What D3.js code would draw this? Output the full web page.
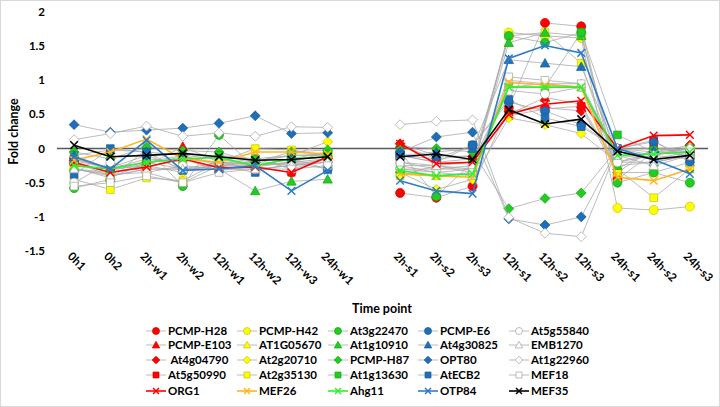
<!DOCTYPE html>
<html><head><meta charset="utf-8">
<script src="https://cdn.jsdelivr.net/npm/d3@7"></script>
<style>
body{margin:0;background:#fff;}
svg{font-family:Lato,"Open Sans",sans-serif;font-weight:bold;}
</style></head>
<body><div id="chart"></div>
<script>
const categories = ["0h1","0h2","2h-w1","2h-w2","12h-w1","12h-w2","12h-w3","24h-w1"," ","2h-s1","2h-s2","2h-s3","12h-s1","12h-s2","12h-s3","24h-s1","24h-s2","24h-s3"];
const yTicks = [-1.5,-1,-0.5,0,0.5,1,1.5,2];

const seriesNames = ["PCMP-H28","PCMP-E103"," At4g04790","At5g50990",
  "PCMP-H42","AT1G05670","At2g20710","At2g35130",
  "At3g22470","At1g10910","PCMP-H87","At1g13630",
  "PCMP-E6","At4g30825","OPT80","AtECB2",
  "At5g55840","EMB1270","At1g22960","MEF18",
  "ORG1","MEF26","Ahg11","OTP84","MEF35"];

const vPCMPH28  = [-0.22,-0.35,-0.27,-0.15,-0.32,-0.27,-0.35,-0.12,null,-0.65,-0.72,-0.55,0.6,1.84,1.79,-0.45,-0.05,-0.1];
const vPCMPE103 = [-0.25,-0.3,-0.25,0.03,-0.2,-0.25,-0.2,-0.15,null,0.05,-0.15,-0.1,0.5,0.75,0.65,-0.3,0.0,0.0];
const vAt4g04790= [-0.18,-0.28,-0.2,-0.1,-0.25,-0.2,-0.25,-0.15,null,0.07,-0.1,-0.12,0.55,0.6,0.55,-0.2,-0.05,0.05];
const vAt5g50990= [-0.15,-0.32,-0.22,-0.12,-0.22,-0.15,-0.3,-0.15,null,-0.1,-0.2,-0.15,0.48,0.58,0.62,-0.35,0.0,-0.05];
const vPCMPH42  = [-0.3,-0.38,-0.35,-0.5,-0.25,-0.18,-0.1,-0.1,null,-0.3,-0.3,-0.3,1.7,1.65,1.62,-0.87,-0.9,-0.85];
const vAT1G05670= [-0.2,-0.4,-0.3,-0.3,-0.25,-0.25,-0.15,-0.05,null,-0.35,-0.4,-0.35,0.9,0.95,0.95,-0.35,-0.35,-0.2];
const vAt2g20710= [-0.3,-0.35,-0.25,-0.35,-0.2,-0.2,-0.1,0.1,null,-0.35,-0.6,-0.45,0.45,0.35,0.22,-0.2,-0.1,0.02];
const vAt2g35130= [-0.45,-0.6,-0.43,-0.47,-0.2,0.0,-0.02,-0.1,null,-0.4,-0.25,-0.3,1.65,1.7,1.25,-0.3,-0.72,-0.3];
const vAt3g22470= [-0.58,-0.45,0.0,-0.55,0.2,-0.27,-0.2,-0.05,null,-0.05,-0.7,-0.2,1.65,1.55,1.7,-0.5,-0.35,-0.5];
const vAt1g10910= [-0.28,-0.43,-0.2,-0.3,-0.3,-0.62,-0.48,-0.45,null,-0.3,-0.35,-0.3,1.55,1.7,1.65,-0.25,-0.2,-0.1];
const vPCMPH87  = [-0.05,-0.15,0.02,-0.03,-0.05,-0.2,-0.05,-0.02,null,0.02,0.0,-0.05,-0.88,-0.73,-0.65,0.0,0.0,-0.02];
const vAt1g13630= [-0.1,-0.3,-0.15,-0.2,-0.1,-0.15,-0.1,-0.08,null,-0.25,-0.25,-0.2,0.9,0.9,1.7,0.2,-0.05,0.0];
const vPCMPE6   = [-0.15,-0.28,-0.1,-0.3,-0.3,-0.25,-0.15,-0.3,null,-0.1,-0.15,0.05,0.68,0.55,0.35,0.0,0.1,-0.15];
const vAt4g30825= [-0.1,-0.02,-0.05,-0.1,-0.15,-0.25,-0.2,-0.2,null,-0.1,-0.05,0.0,1.3,1.25,1.2,-0.05,-0.1,-0.15];
const vOPT80    = [0.35,0.24,0.27,0.3,0.37,0.48,0.22,0.23,null,-0.05,0.17,0.24,-1.03,-1.12,-1.0,0.0,-0.05,-0.05];
const vAtECB2   = [-0.38,0.0,-0.05,-0.32,-0.25,-0.35,-0.2,-0.3,null,-0.1,-0.2,0.05,0.72,0.45,0.32,0.0,0.12,-0.2];
const vAt5g55840= [-0.5,-0.2,-0.35,-0.25,-0.3,-0.3,-0.25,-0.2,null,-0.2,-0.3,-0.25,0.85,0.8,0.9,-0.2,-0.2,-0.1];
const vEMB1270  = [-0.3,-0.4,-0.3,-0.3,-0.2,-0.3,-0.25,-0.2,null,-0.25,-0.35,-0.4,1.0,0.95,0.9,-0.1,-0.25,-0.1];
const vAt1g22960= [0.13,0.22,0.33,0.18,0.23,0.18,0.32,0.31,null,0.35,0.4,0.42,-1.01,-1.24,-1.29,0.0,-0.1,0.0];
const vMEF18    = [-0.55,-0.5,-0.4,-0.5,-0.35,-0.3,-0.3,-0.25,null,-0.2,-0.25,-0.35,1.05,1.0,0.95,-0.1,-0.15,-0.05];
const vORG1     = [-0.2,-0.35,-0.27,-0.15,-0.28,-0.27,-0.35,-0.12,null,0.07,-0.22,-0.2,0.5,0.65,0.7,0.0,0.19,0.2];
const vMEF26    = [-0.17,-0.05,0.14,-0.15,-0.2,-0.05,-0.05,-0.08,null,-0.37,-0.4,-0.42,0.97,0.93,0.9,-0.42,-0.47,-0.3];
const vAhg11    = [-0.25,-0.3,-0.2,-0.15,-0.13,-0.25,-0.15,-0.12,null,-0.32,-0.4,-0.37,0.9,0.9,0.9,-0.1,-0.08,-0.05];
const vOTP84    = [-0.12,-0.3,0.12,-0.32,-0.3,-0.25,-0.62,-0.32,null,-0.47,-0.62,-0.66,1.32,1.51,1.4,0.0,-0.16,-0.37];
const vMEF35    = [0.05,-0.12,-0.1,-0.07,-0.12,-0.17,-0.16,-0.12,null,-0.12,-0.08,-0.16,0.57,0.36,0.43,-0.04,-0.16,-0.1];

const seriesValues = [vPCMPH28,vPCMPE103,vAt4g04790,vAt5g50990,vPCMPH42,vAT1G05670,vAt2g20710,vAt2g35130,
  vAt3g22470,vAt1g10910,vPCMPH87,vAt1g13630,vPCMPE6,vAt4g30825,vOPT80,vAtECB2,
  vAt5g55840,vEMB1270,vAt1g22960,vMEF18,vORG1,vMEF26,vAhg11,vOTP84,vMEF35];

const fills = {red:"#ff0000",yellow:"#ffff00",green:"#22cc22",blue:"#1f6fb8",white:"#ffffff"};
const strokes = {red:"#e00000",yellow:"#c8c800",green:"#18a818",blue:"#1a5e9e",white:"#a6a6a6"};
const colorOrder = ["red","yellow","green","blue","white"];
const shapeOrder = ["circle","triangle","diamond","square"];
const xColors = ["#ff0000","#ffb420","#33ee33","#2e7dc4","#000000"];

const series = seriesNames.map((name,i)=>{
  if(i<20){
    const c = colorOrder[Math.floor(i/4)], s = shapeOrder[i%4];
    return {name, values:seriesValues[i], shape:s, fill:fills[c], stroke:strokes[c], line:"#a6a6a6", lw:0.75};
  }
  const col = xColors[i-20];
  return {name, values:seriesValues[i], shape:"x", fill:"none", stroke:col, line:col, lw:1.6};
});

const W=720,H=407;
const svg=d3.select("#chart").append("svg").attr("width",W).attr("height",H);
svg.append("rect").attr("x",0.5).attr("y",0.5).attr("width",W-1).attr("height",H-1).attr("fill","#fff").attr("stroke","#d9d9d9");

const x=d3.scaleBand().domain(categories).range([56,708]).padding(0);
const y=d3.scaleLinear().domain([-1.5,2]).range([251,12]);
const cx=c=>x(c)+x.bandwidth()/2;

svg.append("g").selectAll("text").data(yTicks).join("text")
  .attr("x",45).attr("y",d=>y(d)).attr("dy","0.35em").attr("text-anchor","end")
  .attr("font-size",11.5).attr("fill","#000").text(d=>d);

svg.append("text").attr("transform",`translate(18,${(y(2)+y(-1.5))/2}) rotate(-90)`)
  .attr("text-anchor","middle").attr("font-size",12.5).text("Fold change");

svg.append("line").attr("x1",57).attr("x2",708).attr("y1",y(0)).attr("y2",y(0)).attr("stroke","#595959").attr("stroke-width",1.5);

svg.append("g").selectAll("text").data(categories.filter(c=>c.trim()!=="")).join("text")
  .attr("transform",c=>`translate(${cx(c)-1},${251}) rotate(45)`)
  .attr("dy","0.75em").attr("text-anchor","start").attr("font-size",11.5).text(c=>c);

svg.append("text").attr("x",382).attr("y",313).attr("text-anchor","middle").attr("font-size",12.5).text("Time point");

function markerPath(shape, size){
  const r=size/2;
  if(shape==="circle") return d3.symbol(d3.symbolCircle, r*r*Math.PI)();
  if(shape==="square") { const h=r*0.85; return `M${-h},${-h}H${h}V${h}H${-h}Z`; }
  if(shape==="diamond") { const d=r*1.1; return `M0,${-d}L${d},0L0,${d}L${-d},0Z`; }
  if(shape==="triangle") { const t=r*1.05; return `M0,${-t}L${t},${t*0.8}L${-t},${t*0.8}Z`; }
  const k=r*0.85;
  return `M${-k},${-k}L${k},${k}M${-k},${k}L${k},${-k}`;
}

const line=d3.line().defined(d=>d.v!=null).x(d=>cx(d.c)).y(d=>y(d.v));
const plot=svg.append("g");
series.forEach(s=>{
  const pts=categories.map((c,i)=>({c,v:s.values[i]}));
  const g=plot.append("g");
  g.append("path").attr("d",line(pts)).attr("fill","none").attr("stroke",s.line).attr("stroke-width",s.lw);
  g.selectAll("path.m").data(pts.filter(p=>p.v!=null)).join("path").attr("class","m")
    .attr("transform",p=>`translate(${cx(p.c)},${y(p.v)})`)
    .attr("d",markerPath(s.shape,9))
    .attr("fill",s.fill).attr("stroke",s.stroke).attr("stroke-width",s.shape==="x"?1.5:0.75);
});

const colX=[156,247,338,428,519];
const rowY=[331,345,360,375,391];
const leg=svg.append("g");
series.forEach((s,i)=>{
  let col,row;
  if(i<20){col=Math.floor(i/4);row=i%4;} else {col=i-20;row=4;}
  const mx=colX[col], my=rowY[row];
  const g=leg.append("g");
  g.append("line").attr("x1",mx-10).attr("x2",mx+10).attr("y1",my).attr("y2",my).attr("stroke",s.line).attr("stroke-width",s.lw);
  g.append("path").attr("transform",`translate(${mx},${my})`).attr("d",markerPath(s.shape,7))
    .attr("fill",s.fill).attr("stroke",s.stroke).attr("stroke-width",s.shape==="x"?1.5:0.75);
  g.append("text").attr("x",mx+12).attr("y",my).attr("dy","0.35em").attr("font-size",11.5)
    .style("white-space","pre").text(s.name);
});
</script></body></html>
